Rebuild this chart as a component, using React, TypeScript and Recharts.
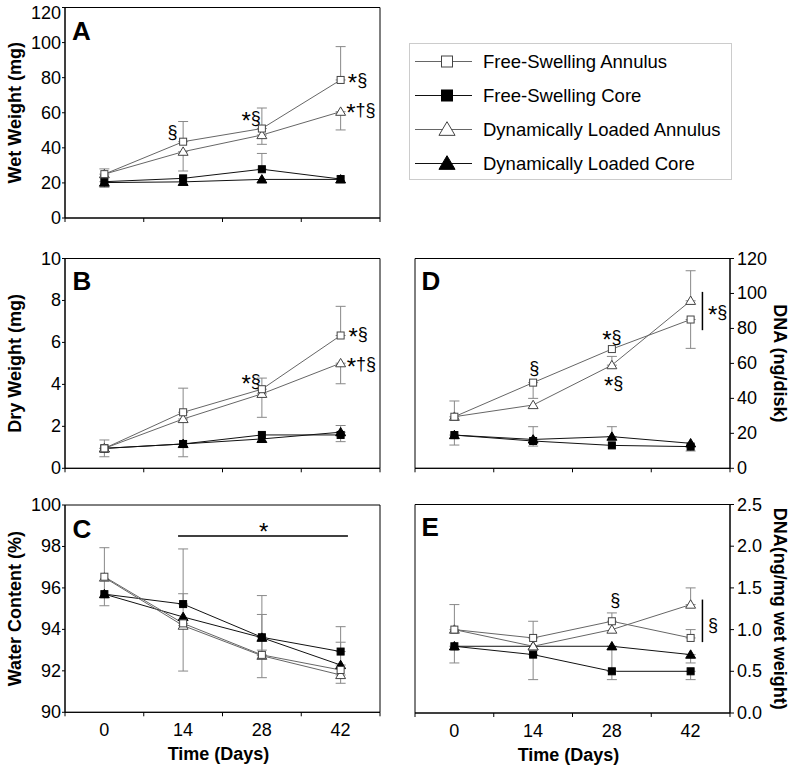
import React from 'react'
import { LineChart, Line, XAxis, YAxis, ErrorBar, ReferenceArea, ReferenceLine, ReferenceDot, Label } from 'recharts'

const FONT = '"Liberation Sans", Arial, Helvetica, sans-serif'

type Err = [number, number] | null

const days = [0, 14, 28, 42]
const xTicks = [-7, 0, 7, 14, 21, 28, 35, 42, 49]

// A: wet weight (mg)
const wetFSA = [25, 43.5, 51, 78.7]
const wetFSAErr: Err[] = [[0, 3], [0, 11.5], [0, 11.7], [0, 19]]
const wetFSC = [20.7, 22.6, 27.8, 22.2]
const wetFSCErr: Err[] = [[3.2, 0], null, [0, 9], null]
const wetDLA = [25, 37.8, 47.3, 60.6]
const wetDLAErr: Err[] = [null, [11, 0], [5.3, 0], [10.4, 0]]
const wetDLC = [20.2, 20.6, 22, 22]
const wetDLCErr: Err[] = [null, null, null, null]

// B: dry weight (mg)
const dryFSA = [0.95, 2.67, 3.77, 6.33]
const dryFSAErr: Err[] = [[0, 0.4], [0, 1.15], [0, 0.53], [0, 1.39]]
const dryFSC = [0.95, 1.16, 1.59, 1.59]
const dryFSCErr: Err[] = [[0.4, 0], null, null, [0.32, 0]]
const dryDLA = [0.95, 2.35, 3.55, 5.01]
const dryDLAErr: Err[] = [null, [1.8, 0], [1.12, 0], [0.98, 0]]
const dryDLC = [0.95, 1.16, 1.4, 1.72]
const dryDLCErr: Err[] = [null, null, null, [0, 0.32]]

// C: water content (%)
const waterFSA = [96.54, 94.29, 92.77, 92.04]
const waterFSAErr: Err[] = [[1.4, 1.4], [2.3, 0], [1.1, 0], null]
const waterFSC = [95.7, 95.22, 93.62, 92.93]
const waterFSCErr: Err[] = [null, [0, 0.5], [0, 1.1], [0, 1.2]]
const waterDLA = [96.5, 94.18, 92.73, 91.8]
const waterDLAErr: Err[] = [null, [0, 3.7], [0, 2.9], [0.4, 0]]
const waterDLC = [95.7, 94.6, 93.6, 92.28]
const waterDLCErr: Err[] = [null, null, [0.6, 0], [0, 1.1]]

// D: DNA (ng/disk)
const dnaFSA = [29.5, 49, 68.2, 85.1]
const dnaFSAErr: Err[] = [[0, 9], [9, 0], null, [16.5, 0]]
const dnaFSC = [19, 15.6, 13.1, 12.4]
const dnaFSCErr: Err[] = [[5.7, 0], [2.9, 0], null, [2.5, 0]]
const dnaDLA = [29.5, 36.2, 59, 95.8]
const dnaDLAErr: Err[] = [null, null, [0, 5], [0, 17.2]]
const dnaDLC = [19, 16.5, 18.1, 14.3]
const dnaDLCErr: Err[] = [null, [0, 7.3], [0, 5.7], null]

// E: DNA (ng/mg wet weight)
const dnaWetFSA = [1.0, 0.9, 1.1, 0.9]
const dnaWetFSAErr: Err[] = [[0, 0.3], [0, 0.2], [0, 0.1], [0, 0.1]]
const dnaWetFSC = [0.8, 0.7, 0.5, 0.5]
const dnaWetFSCErr: Err[] = [[0.2, 0], [0.3, 0], [0.1, 0], [0.1, 0]]
const dnaWetDLA = [1.0, 0.8, 1.0, 1.3]
const dnaWetDLAErr: Err[] = [null, null, null, [0, 0.2]]
const dnaWetDLC = [0.8, 0.8, 0.8, 0.7]
const dnaWetDLCErr: Err[] = [null, null, [0.3, 0], [0.1, 0]]

const seriesInfo = [
  { key: 'fsa', name: 'Free-Swelling Annulus', shape: 'square', filled: false, stroke: '#666' },
  { key: 'fsc', name: 'Free-Swelling Core', shape: 'square', filled: true, stroke: '#111' },
  { key: 'dla', name: 'Dynamically Loaded Annulus', shape: 'triangle', filled: false, stroke: '#666' },
  { key: 'dlc', name: 'Dynamically Loaded Core', shape: 'triangle', filled: true, stroke: '#111' },
]
// cores underneath, open markers on top
const drawOrder = ['fsc', 'dlc', 'dla', 'fsa']

function buildRows(vals: number[][], errs: Err[][]) {
  return days.map((d, i) => {
    const row: any = { day: d }
    seriesInfo.forEach((s, k) => {
      row[s.key] = vals[k][i]
      row[s.key + 'Err'] = errs[k][i]
    })
    return row
  })
}

const wetRows = buildRows([wetFSA, wetFSC, wetDLA, wetDLC], [wetFSAErr, wetFSCErr, wetDLAErr, wetDLCErr])
const dryRows = buildRows([dryFSA, dryFSC, dryDLA, dryDLC], [dryFSAErr, dryFSCErr, dryDLAErr, dryDLCErr])
const waterRows = buildRows([waterFSA, waterFSC, waterDLA, waterDLC], [waterFSAErr, waterFSCErr, waterDLAErr, waterDLCErr])
const dnaRows = buildRows([dnaFSA, dnaFSC, dnaDLA, dnaDLC], [dnaFSAErr, dnaFSCErr, dnaDLAErr, dnaDLCErr])
const dnaWetRows = buildRows([dnaWetFSA, dnaWetFSC, dnaWetDLA, dnaWetDLC], [dnaWetFSAErr, dnaWetFSCErr, dnaWetDLAErr, dnaWetDLCErr])

// significance marks (data coordinates)
const wetNotes = [
  { x: 12.1, y: 49.2, text: '§' },
  { x: 26.1, y: 56.8, text: '*§' },
  { x: 45.0, y: 78.9, text: '*§' },
  { x: 45.6, y: 61.4, text: '*†§' },
]
const dryNotes = [
  { x: 26.1, y: 4.18, text: '*§' },
  { x: 45.1, y: 6.4, text: '*§' },
  { x: 45.7, y: 4.97, text: '*†§' },
]
const waterNotes = [{ x: 28.3, y: 98.85, text: '*' }]
const waterBars = [[{ x: 13.1, y: 98.5 }, { x: 43.3, y: 98.5 }]]
const dnaNotes = [
  { x: 14.2, y: 57.1, text: '§' },
  { x: 28.0, y: 75.2, text: '*§' },
  { x: 28.3, y: 49, text: '*§' },
  { x: 46.8, y: 89.5, text: '*§' },
]
const dnaBars = [[{ x: 44.1, y: 100.9 }, { x: 44.1, y: 79 }]]
const dnaWetNotes = [
  { x: 28.6, y: 1.355, text: '§' },
  { x: 46.0, y: 1.06, text: '§' },
]
const dnaWetBars = [[{ x: 44.1, y: 1.36 }, { x: 44.1, y: 0.85 }]]

function Marker({ cx, cy, shape, filled, size }: any) {
  const fill = filled ? '#000' : '#fff'
  const stroke = filled ? '#000' : '#444'
  if (shape === 'square') {
    const h = size / 2
    return <rect x={cx - h} y={cy - h} width={size} height={size} fill={fill} stroke={stroke} strokeWidth={1} />
  }
  const w = size * 0.62
  const pts = `${cx},${cy - size * 0.6} ${cx - w},${cy + size * 0.45} ${cx + w},${cy + size * 0.45}`
  return <polygon points={pts} fill={fill} stroke={stroke} strokeWidth={1} />
}

const makeXTick = (showLabel: boolean) => (props: any) => {
  const { x, y, payload } = props
  if (days.includes(payload.value)) {
    if (!showLabel) return <g />
    return (
      <text x={x} y={y + 24} textAnchor="middle" fontSize={18} fontFamily={FONT} fill="#000">
        {payload.value}
      </text>
    )
  }
  return <line x1={x} y1={y} x2={x} y2={y + 4} stroke="#000" />
}

// y tick labels; the top one is nudged down so it stays inside the picture
const makeYTick = (right: boolean, fmt?: (v: number) => string) => (props: any) => {
  const { x, y, payload } = props
  const ty = Math.max(y, 13)
  return (
    <text x={x} y={ty} textAnchor={right ? 'start' : 'end'} dominantBaseline="central"
      fontSize={18} fontFamily={FONT} fill="#000">
      {fmt ? fmt(payload.value) : payload.value}
    </text>
  )
}

const xTitle = (props: any) => {
  const { x, y, width } = props.viewBox
  return (
    <text x={x + width / 2 - 4} y={y + 48} textAnchor="middle" fontSize={18} fontWeight="bold" fontFamily={FONT} fill="#000">
      Time (Days)
    </text>
  )
}

const yTitle = (text: string, right: boolean) => (props: any) => {
  const { x, y, width, height } = props.viewBox
  const cx = right ? x + width - 20 : x + 15
  const cy = y + height / 2
  return (
    <text x={cx} y={cy} transform={`rotate(${right ? 90 : -90} ${cx} ${cy})`} textAnchor="middle"
      dominantBaseline="central" fontSize={18} fontWeight="bold" fontFamily={FONT} fill="#000">
      {text}
    </text>
  )
}

const noteShape = (text: string) => (sp: any) => {
  const first = text[0]
  const rest = text.slice(1)
  return (
    <text x={sp.cx} y={sp.cy + 6} textAnchor="middle" fontSize={18} fontFamily={FONT} fill="#000">
      {first === '*' ? (
        <>
          <tspan fontSize={24} dy={5}>*</tspan>
          <tspan dy={-5}>{rest}</tspan>
        </>
      ) : text}
    </text>
  )
}

function Panel(p: any) {
  const right = p.side === 'right'
  return (
    <div style={{ position: 'absolute', left: p.left, top: p.top }}>
      <LineChart width={p.width} height={p.height} data={p.data} margin={p.margin}>
        <XAxis dataKey="day" type="number" domain={[-7, 49]} ticks={xTicks} interval={0}
          tickLine={false} tickSize={0} tickMargin={0} axisLine={{ stroke: '#000' }}
          height={p.xAxisHeight} tick={makeXTick(p.showDays)}>
          {p.showDays && <Label content={xTitle} />}
        </XAxis>
        <YAxis type="number" orientation={p.side} domain={p.yDomain} ticks={p.yTicks} interval={0}
          width={p.yAxisWidth} tickSize={right ? 4 : 3} tickMargin={right ? 3 : 1}
          axisLine={{ stroke: '#000' }} tickLine={{ stroke: '#000' }}
          tick={makeYTick(right, p.yFormat)}>
          <Label content={yTitle(p.yTitle, right)} />
        </YAxis>
        <ReferenceArea x1={-7} x2={49} y1={p.yDomain[0]} y2={p.yDomain[1]} fill="none" stroke="#000" strokeWidth={1} />
        {(p.bars || []).map((seg: any, i: number) => (
          <ReferenceLine key={'bar' + i} segment={seg} stroke="#000" strokeWidth={1.5} />
        ))}
        {drawOrder.map((k) => {
          const s = seriesInfo.find((q) => q.key === k)!
          return (
            <Line key={k} dataKey={k} type="linear" stroke={s.stroke} strokeWidth={1} isAnimationActive={false}
              activeDot={false}
              dot={(dp: any) => <Marker key={k + dp.index} cx={dp.cx} cy={dp.cy} shape={s.shape} filled={s.filled} size={s.shape === 'square' ? 7 : 8} />}>
              <ErrorBar dataKey={k + 'Err'} direction="y" width={5} stroke="#888" strokeWidth={1} isAnimationActive={false} />
            </Line>
          )
        })}
        {(p.notes || []).map((n: any, i: number) => (
          <ReferenceDot key={'n' + i} x={n.x} y={n.y} r={1} fill="none" stroke="none" shape={noteShape(n.text)} />
        ))}
        <text x={p.letterPos[0]} y={p.letterPos[1]} fontSize={26} fontWeight="bold" fontFamily={FONT} fill="#000">
          {p.letter}
        </text>
      </LineChart>
    </div>
  )
}

function LegendBox() {
  return (
    <svg style={{ position: 'absolute', left: 409, top: 43 }} width={323} height={137}>
      <rect x={0.5} y={0.5} width={322} height={136} fill="#fff" stroke="#ccc" />
      {seriesInfo.map((s, i) => {
        const cy = 18.5 + i * 34
        return (
          <g key={s.key}>
            <line x1={6} x2={63} y1={cy} y2={cy} stroke={s.stroke} strokeWidth={1} />
            <Marker cx={38} cy={cy} shape={s.shape} filled={s.filled} size={s.shape === 'square' ? 11 : 13} />
            <text x={74} y={cy} dominantBaseline="central" fontSize={18.5} fontFamily={FONT} fill="#000">
              {s.name}
            </text>
          </g>
        )
      })}
    </svg>
  )
}

const fmt1 = (v: number) => v.toFixed(1)

export default function App() {
  return (
    <div style={{ position: 'absolute', left: 0, top: 0, width: 800, height: 773, background: '#fff' }}>
      <Panel left={0} top={0} width={400} height={240} margin={{ top: 7.5, right: 20, bottom: 12, left: 0 }}
        yAxisWidth={65} xAxisHeight={10} side="left" data={wetRows} yDomain={[0, 120]}
        yTicks={[0, 20, 40, 60, 80, 100, 120]} yTitle="Wet Weight (mg)" letter="A" letterPos={[72, 40]}
        showDays={false} notes={wetNotes} />
      <Panel left={0} top={240} width={400} height={240} margin={{ top: 18.5, right: 20, bottom: 1.7, left: 0 }}
        yAxisWidth={65} xAxisHeight={10} side="left" data={dryRows} yDomain={[0, 10]}
        yTicks={[0, 2, 4, 6, 8, 10]} yTitle="Dry Weight (mg)" letter="B" letterPos={[72.5, 50]}
        showDays={false} notes={dryNotes} />
      <Panel left={400} top={240} width={400} height={240} margin={{ top: 18.5, right: 0, bottom: 1.7, left: 15 }}
        yAxisWidth={70} xAxisHeight={10} side="right" data={dnaRows} yDomain={[0, 120]}
        yTicks={[0, 20, 40, 60, 80, 100, 120]} yTitle="DNA (ng/disk)" letter="D" letterPos={[21.5, 50]}
        showDays={false} notes={dnaNotes} bars={dnaBars} />
      <Panel left={0} top={480} width={400} height={293} margin={{ top: 25, right: 20, bottom: 0, left: 0 }}
        yAxisWidth={65} xAxisHeight={60.7} side="left" data={waterRows} yDomain={[90, 100]}
        yTicks={[90, 92, 94, 96, 98, 100]} yTitle="Water Content (%)" letter="C" letterPos={[72.5, 58]}
        showDays={true} notes={waterNotes} bars={waterBars} />
      <Panel left={400} top={480} width={400} height={293} margin={{ top: 24.5, right: 0, bottom: 0, left: 15 }}
        yAxisWidth={70} xAxisHeight={60} side="right" data={dnaWetRows} yDomain={[0, 2.5]}
        yTicks={[0, 0.5, 1, 1.5, 2, 2.5]} yFormat={fmt1} yTitle="DNA(ng/mg wet weight)" letter="E"
        letterPos={[21.5, 56]} showDays={true} notes={dnaWetNotes} bars={dnaWetBars} />
      <LegendBox />
    </div>
  )
}
